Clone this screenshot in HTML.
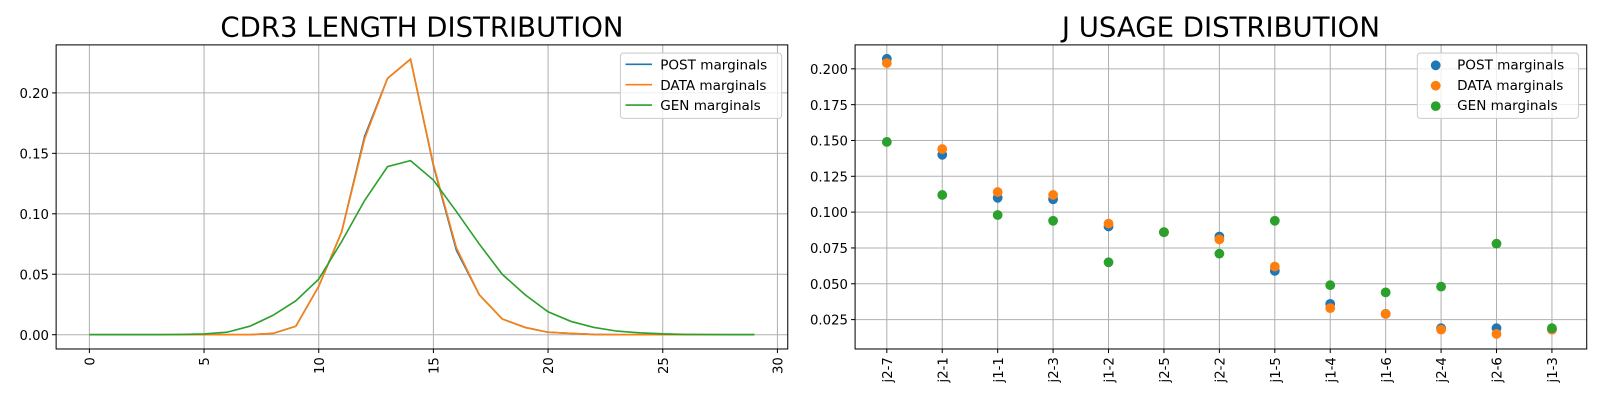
<!DOCTYPE html>
<html><head><meta charset="utf-8">
<style>
html,body{margin:0;padding:0;background:#fff;}
svg{display:block;font-family:"DejaVu Sans","Liberation Sans",sans-serif;}
</style></head>
<body>
<svg id="chart" width="1600" height="400" viewBox="0 0 1600 400"><g id="root" transform="scale(1.0204)"></g></svg>
<script>
// ---- Left chart data ----
const cdrLengths = [0,1,2,3,4,5,6,7,8,9,10,11,12,13,14,15,16,17,18,19,20,21,22,23,24,25,26,27,28,29];
const postCdr = [0,0,0,0,0,0,0,0,0.001,0.007,0.040,0.085,0.164,0.212,0.228,0.140,0.070,0.033,0.013,0.006,0.002,0.001,0.0003,0,0,0,0,0,0,0];
const dataCdr = [0,0,0,0,0,0,0,0,0.001,0.007,0.040,0.085,0.162,0.212,0.228,0.141,0.072,0.033,0.013,0.006,0.002,0.001,0.0003,0,0,0,0,0,0,0];
const genCdr = [0,0,0,0,0.0002,0.0006,0.002,0.007,0.016,0.028,0.046,0.077,0.111,0.139,0.144,0.128,0.102,0.075,0.050,0.033,0.019,0.011,0.006,0.003,0.0015,0.0007,0.0003,0.0001,0,0];
const leftXTicks = [0,5,10,15,20,25,30];
const leftYTicks = [0,0.05,0.10,0.15,0.20];
const leftYLabels = ["0.00","0.05","0.10","0.15","0.20"];
// ---- Right chart data ----
const jGenes = ["j2-7","j2-1","j1-1","j2-3","j1-2","j2-5","j2-2","j1-5","j1-4","j1-6","j2-4","j2-6","j1-3"];
const postJ = [0.207,0.140,0.110,0.109,0.090,0.086,0.083,0.059,0.036,0.029,0.019,0.019,0.018];
const dataJ = [0.204,0.144,0.114,0.112,0.092,0.086,0.081,0.062,0.033,0.029,0.018,0.015,0.018];
const genJ = [0.149,0.112,0.098,0.094,0.065,0.086,0.071,0.094,0.049,0.044,0.048,0.078,0.019];
const rightYTicks = [0.025,0.05,0.075,0.1,0.125,0.15,0.175,0.2];
const rightYLabels = ["0.025","0.050","0.075","0.100","0.125","0.150","0.175","0.200"];

const C = {post:"#1f77b4", data:"#ff7f0e", gen:"#2ca02c"};
const root = document.getElementById('root');
const NS = "http://www.w3.org/2000/svg";
function mk(tag, attrs, parent){
  const e = document.createElementNS(NS, tag);
  for (const k in attrs) e.setAttribute(k, attrs[k]);
  (parent||root).appendChild(e);
  return e;
}

const L = {x0:55, x1:772, y0:44, y1:342, xmin:-1.45, xmax:30.45, ymin:-0.0118, ymax:0.2397};
function lx(v){return L.x0 + (v-L.xmin)/(L.xmax-L.xmin)*(L.x1-L.x0);}
function ly(v){return L.y1 - (v-L.ymin)/(L.ymax-L.ymin)*(L.y1-L.y0);}
const R = {x0:838, x1:1555, y0:44, y1:342, ymin:0.0045, ymax:0.2167};
const rStep = (R.x1-R.x0)/((jGenes.length-1)*1.1);
function rx(i){return R.x0 + 0.05*(jGenes.length-1)*rStep + i*rStep - 1.5;}
function ry(v){return R.y1 - (v-R.ymin)/(R.ymax-R.ymin)*(R.y1-R.y0);}

// ---- Left chart ----
const gl = mk('g',{});


const lt = mk('text',{x:(L.x0+L.x1)/2,y:36,'text-anchor':'middle','font-size':'27'},gl);
lt.textContent = "CDR3 LENGTH DISTRIBUTION";


leftXTicks.forEach(t=>{
  const x = lx(t);
  const g = mk('line',{x1:x,x2:x,y1:L.y0,y2:L.y1,stroke:'#b0b0b0','stroke-width':1},gl);
  
  
  mk('line',{x1:x,x2:x,y1:L.y1,y2:L.y1+4,stroke:'#000'},gl);
  const tx = mk('text',{x:0,y:0,'font-size':'13','text-anchor':'end',transform:`translate(${x+5},${L.y1+8}) rotate(-90)`},gl);
  tx.textContent = t;
  
  
});
leftYTicks.forEach((t,i)=>{
  const y = ly(t);
  const g = mk('line',{x1:L.x0,x2:L.x1,y1:y,y2:y,stroke:'#b0b0b0','stroke-width':1},gl);
  
  
  mk('line',{x1:L.x0-4,x2:L.x0,y1:y,y2:y,stroke:'#000'},gl);
  const tx = mk('text',{x:L.x0-7,y:y+5,'font-size':'13','text-anchor':'end'},gl);
  tx.textContent = leftYLabels[i];
  
  
});
[[postCdr,C.post,'post-marginals-line'],[dataCdr,C.data,'data-marginals-line'],[genCdr,C.gen,'gen-marginals-line']].forEach(([arr,col,name])=>{
  const pts = arr.map((v,i)=>lx(cdrLengths[i]).toFixed(1)+','+ly(v).toFixed(1)).join(' ');
  const p = mk('polyline',{points:pts,fill:'none',stroke:col,'stroke-width':1.6},gl);
  
  
});
const lf = mk('rect',{x:L.x0,y:L.y0,width:L.x1-L.x0,height:L.y1-L.y0,fill:'none',stroke:'#000','stroke-width':1},gl);



// ---- Right chart ----
const gr = mk('g',{});


const rt = mk('text',{x:(R.x0+R.x1)/2,y:36,'text-anchor':'middle','font-size':'27'},gr);
rt.textContent = "J USAGE DISTRIBUTION";


jGenes.forEach((g,i)=>{
  const x = rx(i);
  const gl2 = mk('line',{x1:x,x2:x,y1:R.y0,y2:R.y1,stroke:'#b0b0b0','stroke-width':1},gr);
  
  
  mk('line',{x1:x,x2:x,y1:R.y1,y2:R.y1+4,stroke:'#000'},gr);
  const tx = mk('text',{x:0,y:0,'font-size':'13','text-anchor':'end',transform:`translate(${x+5},${R.y1+8}) rotate(-90)`},gr);
  tx.textContent = g;
  
  
});
rightYTicks.forEach((t,i)=>{
  const y = ry(t);
  const g = mk('line',{x1:R.x0,x2:R.x1,y1:y,y2:y,stroke:'#b0b0b0','stroke-width':1},gr);
  
  
  mk('line',{x1:R.x0-4,x2:R.x0,y1:y,y2:y,stroke:'#000'},gr);
  const tx = mk('text',{x:R.x0-7,y:y+5,'font-size':'13','text-anchor':'end'},gr);
  tx.textContent = rightYLabels[i];
  
  
});
[[postJ,C.post,'post-marginals-point'],[dataJ,C.data,'data-marginals-point'],[genJ,C.gen,'gen-marginals-point']].forEach(([arr,col,name])=>{
  arr.forEach((v,i)=>{
    const c = mk('circle',{cx:rx(i),cy:ry(v),r:4.8,fill:col},gr);
    
    
  });
});
const rf = mk('rect',{x:R.x0,y:R.y0,width:R.x1-R.x0,height:R.y1-R.y0,fill:'none',stroke:'#000','stroke-width':1},gr);



// ---- Legends ----
const labels = ["POST marginals","DATA marginals","GEN marginals"];
const cols = [C.post,C.data,C.gen];
function legend(x, y, kind, name){
  const g = mk('g',{});
  
  
  mk('rect',{x:x,y:y,width:158,height:64,rx:3,fill:'#fff','fill-opacity':0.8,stroke:'#ccc'},g);
  labels.forEach((lab,i)=>{
    const yy = y+11+i*20;
    if(kind==='line'){
      mk('line',{x1:x+5,x2:x+31,y1:yy,y2:yy,stroke:cols[i],'stroke-width':1.6},g);
    } else {
      mk('circle',{cx:x+18,cy:yy+1,r:4.8,fill:cols[i]},g);
    }
    const t = mk('text',{x:x+39,y:yy+5,'font-size':'13.3'},g);
    t.textContent = lab;
    
    
  });
}
legend(608,52,'line','left-legend');
legend(1389,52,'dot','right-legend');
</script>
</body></html>
